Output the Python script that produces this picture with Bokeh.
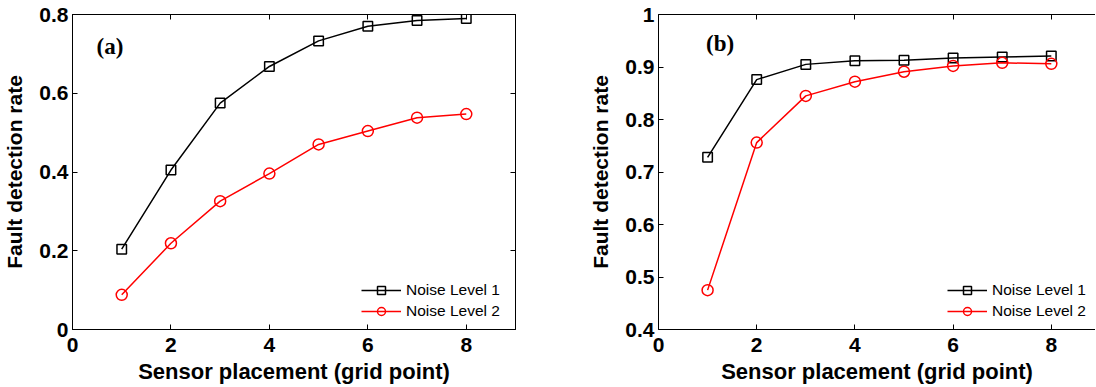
from bokeh.plotting import figure
from bokeh.models import LinearAxis, FixedTicker, CustomJSTickFormatter, Range1d, Legend, LegendItem, Label
from bokeh.layouts import row
from bokeh.embed import file_html
from bokeh.resources import INLINE

sensor = [1, 2, 3, 4, 5, 6, 7, 8]
a_level1 = [0.204, 0.405, 0.575, 0.668, 0.733, 0.770, 0.785, 0.790]
a_level2 = [0.088, 0.219, 0.326, 0.396, 0.470, 0.504, 0.538, 0.547]
b_level1 = [0.728, 0.876, 0.905, 0.912, 0.913, 0.917, 0.919, 0.921]
b_level2 = [0.475, 0.756, 0.845, 0.872, 0.891, 0.902, 0.908, 0.906]
x_ticks = [0, 2, 4, 6, 8]
a_yticks = [0, 0.2, 0.4, 0.6, 0.8]
b_yticks = [0.4, 0.5, 0.6, 0.7, 0.8, 0.9, 1.0]
series_names = ["Noise Level 1", "Noise Level 2"]
x_title = "Sensor placement (grid point)"
y_title = "Fault detection rate"

FONT = "Liberation Sans"
fmt = CustomJSTickFormatter(code="""
if (Math.abs(tick - Math.round(tick)) < 1e-9) { return Math.round(tick).toString(); }
return tick.toFixed(1);
""")
blank = CustomJSTickFormatter(code="return '';")


def panel(y1, y2, xrange, yrange, yticks, tag, tag_xy, width, mbl, mbr, right_axis):
    p = figure(width=width, height=386, output_backend="svg", toolbar_location=None,
               x_range=Range1d(*xrange), y_range=Range1d(*yrange),
               min_border_left=mbl, min_border_right=mbr, min_border_top=14,
               min_border_bottom=50)
    p.grid.visible = False
    p.outline_line_color = "black" if right_axis else None
    p.outline_line_width = 1
    p.background_fill_color = "white"
    p.border_fill_color = "white"

    for ax, ticks in ((p.xaxis[0], x_ticks), (p.yaxis[0], yticks)):
        ax.ticker = FixedTicker(ticks=ticks)
        ax.formatter = fmt
        ax.major_tick_in = 5
        ax.major_tick_out = 0
        ax.minor_tick_line_color = None
        ax.axis_line_color = "black"
        ax.major_label_text_font = FONT
        ax.major_label_text_font_style = "bold"
        ax.major_label_text_font_size = "21px"
        ax.major_label_text_color = "black"
        ax.axis_label_text_font = FONT
        ax.axis_label_text_font_style = "bold"
        ax.axis_label_text_color = "black"
    p.xaxis[0].axis_label = x_title
    p.xaxis[0].axis_label_text_font_size = "22px"
    p.xaxis[0].major_label_standoff = 8
    p.xaxis[0].axis_label_standoff = 4
    p.yaxis[0].axis_label = y_title
    p.yaxis[0].axis_label_text_font_size = "21px"
    p.yaxis[0].major_label_standoff = 4
    p.yaxis[0].axis_label_standoff = 10

    extra = [("above", x_ticks)]
    if right_axis:
        extra.append(("right", yticks))
    for loc, ticks in extra:
        ax = LinearAxis(ticker=FixedTicker(ticks=ticks), formatter=blank,
                        major_label_standoff=0, major_tick_in=5, major_tick_out=0,
                        minor_tick_line_color=None, axis_line_color="black")
        p.add_layout(ax, loc)

    l1 = p.line(sensor, y1, line_color="black", line_width=1.5)
    s1 = p.scatter(sensor, y1, marker="square", size=9.5, fill_color=None,
                   line_color="black", line_width=1.5)
    l2 = p.line(sensor, y2, line_color="red", line_width=1.5)
    s2 = p.scatter(sensor, y2, marker="circle", size=11, fill_color=None,
                   line_color="red", line_width=1.5)

    legend = Legend(items=[LegendItem(label=series_names[0], renderers=[l1, s1]),
                           LegendItem(label=series_names[1], renderers=[l2, s2])],
                    location=(283, 2), margin=0, padding=6, spacing=1,
                    glyph_width=40, label_standoff=5,
                    background_fill_alpha=0, border_line_alpha=0,
                    label_text_font=FONT, label_text_font_size="15.5px",
                    label_text_color="black")
    p.add_layout(legend)

    p.add_layout(Label(x=tag_xy[0], y=tag_xy[1], text=tag, text_font="Liberation Serif",
                       text_font_style="bold", text_font_size="23px",
                       text_baseline="middle", text_align="left", text_color="black"))
    return p


pa = panel(a_level1, a_level2, (0, 9), (0, 0.8), a_yticks, "(a)", (0.49, 0.72), 560, 72, 45, True)
pb = panel(b_level1, b_level2, (0, 8.9), (0.4, 1.0), b_yticks, "(b)", (0.967, 0.945), 535, 98, 0, False)

layout = row(pa, pb)
open("out.html", "w").write(file_html(layout, INLINE))
